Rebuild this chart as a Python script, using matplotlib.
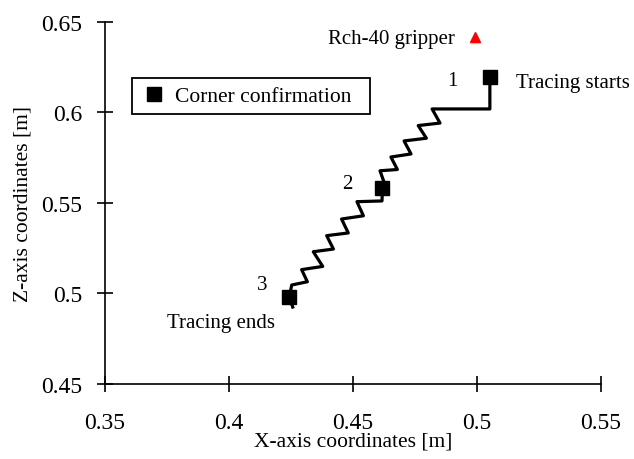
import matplotlib.pyplot as plt

plt.rcParams['font.family'] = ['Liberation Serif', 'DejaVu Serif']

# tracing path (x, z) in metres
path_x = [0.5052, 0.5052, 0.4819, 0.4851, 0.4763, 0.4796, 0.4706, 0.4734,
          0.4653, 0.4679, 0.4609, 0.4625, 0.4619,
          0.4617, 0.4516, 0.4542, 0.4454, 0.4481, 0.4394, 0.4421, 0.4340,
          0.4378, 0.4293, 0.4316, 0.4253, 0.4243, 0.4257]
path_z = [0.6196, 0.6019, 0.6019, 0.5941, 0.5927, 0.5857, 0.5842, 0.5770,
          0.5753, 0.5684, 0.5677, 0.5615, 0.5582,
          0.5510, 0.5506, 0.5428, 0.5410, 0.5333, 0.5318, 0.5244, 0.5229,
          0.5148, 0.5130, 0.5063, 0.5045, 0.4977, 0.4923]

# corner confirmation points
corner_x = [0.5052, 0.4619, 0.4243]
corner_z = [0.6196, 0.5582, 0.4977]
corner_labels = ['1', '2', '3']

# gripper position
gripper_x = [0.4992]
gripper_z = [0.6417]

fig = plt.figure(figsize=(6.34, 4.6), dpi=100)
ax = fig.add_axes([0.1656, 0.1641, 0.7823, 0.7859])

ax.plot(path_x, path_z, color='black', lw=2.3, solid_joinstyle='round', zorder=2)
ax.plot(corner_x, corner_z, 's', color='black', ms=9.5, ls='none',
        label='Corner confirmation  ', zorder=3)
ax.plot(gripper_x, gripper_z, '^', color='red', ms=7.5, ls='none', zorder=3)

label_pos = [(0.4899, 0.6174), (0.4476, 0.5604), (0.4133, 0.5050)]
for lab, (lx, lz) in zip(corner_labels, label_pos):
    ax.text(lx, lz, lab, fontsize=15, ha='center', va='center')

ax.text(0.5157, 0.6163, 'Tracing starts', fontsize=15, ha='left', va='center')
ax.text(0.3750, 0.4835, 'Tracing ends', fontsize=15, ha='left', va='center')
ax.text(0.4911, 0.6406, 'Rch-40 gripper', fontsize=15, ha='right', va='center')

ax.set_xlim(0.35, 0.55)
ax.set_ylim(0.45, 0.65)
ax.set_xticks([0.35, 0.4, 0.45, 0.5, 0.55])
ax.set_xticklabels(['0.35', '0.4', '0.45', '0.5', '0.55'])
ax.set_yticks([0.45, 0.5, 0.55, 0.6, 0.65])
ax.set_yticklabels(['0.45', '0.5', '0.55', '0.6', '0.65'])
ax.tick_params(direction='inout', length=11, width=1.2, labelsize=17)
ax.tick_params(axis='x', pad=15)
ax.tick_params(axis='y', pad=11)
ax.set_xlabel('X-axis coordinates [m]', fontsize=15.5, labelpad=-1)
ax.set_ylabel('Z-axis coordinates [m]', fontsize=15.5, labelpad=6)
for s in ['top', 'right']:
    ax.spines[s].set_visible(False)
for s in ['left', 'bottom']:
    ax.spines[s].set_linewidth(1.2)

leg = ax.legend(loc='upper left', bbox_to_anchor=(0.0544, 0.845), fontsize=15.5,
                frameon=True, fancybox=False, edgecolor='black', framealpha=1,
                handlelength=1.28, handletextpad=0.34, borderpad=0.38,
                borderaxespad=0)
leg.get_frame().set_linewidth(1.3)

fig.savefig('out.png', dpi=100)
